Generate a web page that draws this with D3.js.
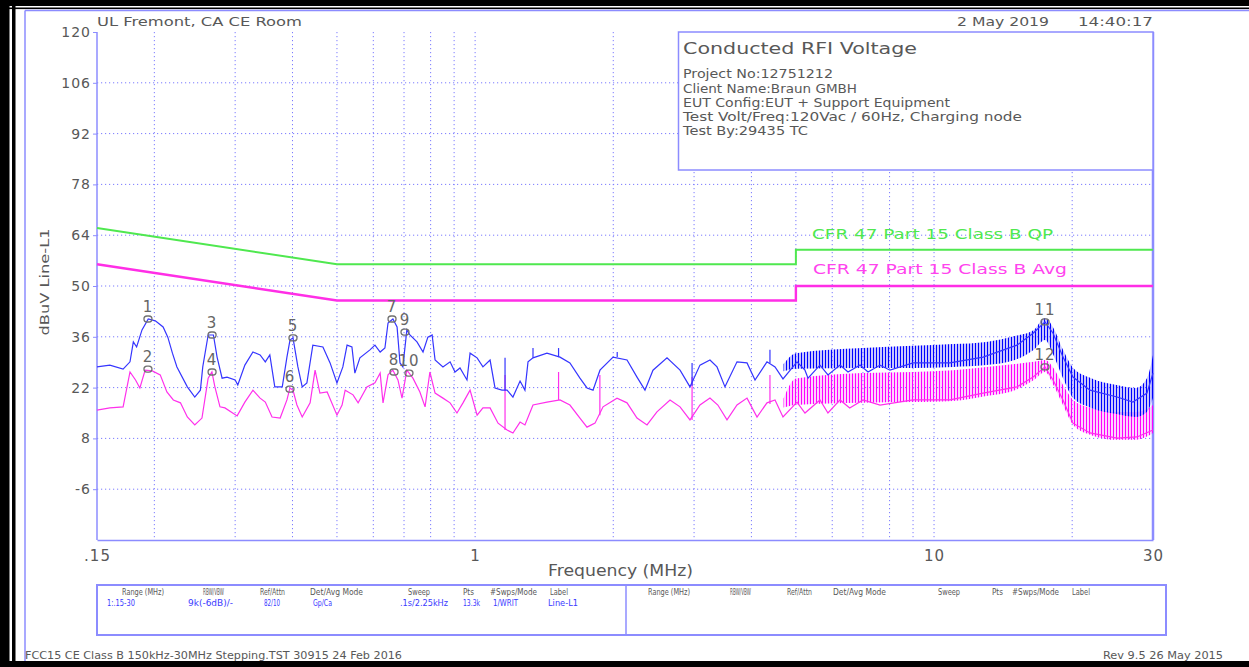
<!DOCTYPE html>
<html>
<head>
<meta charset="utf-8">
<script src="https://cdn.jsdelivr.net/npm/d3@7/dist/d3.min.js"></script>
<style>
  body { margin: 0; background: #fff; }
  text { font-family: "DejaVu Sans", sans-serif; }
</style>
</head>
<body>
<svg id="chart" width="1249" height="667"></svg>
<script>
// ---- data ----
const yTicks = [120, 106, 92, 78, 64, 50, 36, 22, 8, -6];
const xTickLabels = [".15", "1", "10", "30"];
const xTickFreqs = [0.15, 1, 10, 30];
const gridFreqs = [0.2, 0.3, 0.4, 0.5, 0.6, 0.7, 0.8, 0.9, 1, 2, 3, 4, 5, 6, 7, 8, 9, 10, 20];

// limit lines (CFR 47 Part 15 Class B)
const limitFreq = [0.15, 0.5, 5, 5, 30];
const qpLimit = [66, 56, 56, 60, 60];
const avgLimit = [56, 46, 46, 50, 50];

// peak trace (blue)
const peakFreq = [0.150,0.160,0.171,0.177,0.180,0.183,0.188,0.194,0.201,0.209,0.214,0.219,0.224,0.236,0.245,0.252,0.255,0.262,0.269,0.274,
  0.281,0.288,0.300,0.304,0.315,0.328,0.340,0.349,0.357,0.366,0.380,0.389,0.395,0.401,0.411,0.420,0.430,0.443,0.466,0.483,
  0.500,0.515,0.526,0.539,0.547,0.561,0.590,0.605,0.621,0.636,0.646,0.662,0.676,0.686,0.696,0.710,0.721,0.747,0.770,0.789,
  0.806,0.818,0.851,0.882,0.904,0.927,0.960,0.975,1.010,1.040,1.078,1.105,1.144,1.174,1.209,1.253,1.284,1.304,1.337,1.434,
  1.531,1.609,1.692,1.753,1.807,1.871,1.998,2.143,2.253,2.345,2.441,2.619,2.796,2.939,3.090,3.249,3.366,3.503,3.721,3.913,
  4.073,4.325,4.503,4.687,5.028,5.233,5.314,5.642,5.873,6.240,6.495,6.899,7.181,7.627,8.017,9.000,10.30,10.83,12.79,15.16,
  16.44,17.45,18.17,19.10,20.08,21.87,25.05,27.13,29.11,30.0];
const peakLevel = [27.7,28.2,27.1,29.1,34.6,33.2,37.9,40.9,40.4,38.7,35.9,31.5,27.7,22.2,19.4,21.3,27.7,36.5,36.5,30.4,
  24.6,24.9,24.1,22.7,28.2,31.8,31.0,29.1,31.0,22.2,22.2,30.4,35.1,35.7,27.7,22.2,23.3,33.7,33.2,28.8,
  23.3,27.7,33.7,33.2,26.0,30.2,32.4,33.7,31.8,32.9,39.8,40.9,38.7,28.8,27.7,37.9,36.5,34.6,31.8,35.9,
  36.5,29.6,27.7,29.1,26.3,27.4,24.1,31.5,30.2,27.7,29.6,21.9,21.3,21.3,19.4,23.8,21.3,29.1,30.2,31.5,
  30.4,28.8,24.6,21.9,21.3,26.8,30.4,29.6,24.9,21.3,26.8,30.2,26.8,22.2,28.2,29.6,27.7,22.2,29.1,28.8,
  24.1,29.1,27.7,24.4,29.1,26.8,24.6,28.2,25.5,28.2,26.3,28.2,26.3,28.2,26.8,28.8,28.8,28.8,30.4,33.7,
  37.0,40.1,37.0,30.4,24.9,21.3,19.4,18.0,20.5,26.0];

// average trace (magenta)
const avgFreq = [0.150,0.160,0.171,0.177,0.182,0.186,0.191,0.198,0.206,0.213,0.220,0.228,0.236,0.245,0.254,0.262,0.267,0.271,0.278,0.285,
  0.303,0.315,0.328,0.340,0.349,0.361,0.376,0.389,0.395,0.401,0.409,0.420,0.437,0.448,0.459,0.476,0.500,0.513,0.521,0.542,
  0.556,0.581,0.605,0.621,0.630,0.646,0.662,0.679,0.693,0.710,0.732,0.758,0.778,0.797,0.818,0.851,0.882,0.913,0.941,0.975,
  1.010,1.040,1.078,1.122,1.174,1.209,1.253,1.284,1.337,1.434,1.531,1.609,1.692,1.753,1.825,1.900,2.038,2.143,2.253,2.369,
  2.490,2.659,2.796,2.939,3.090,3.249,3.380,3.539,3.721,3.913,4.114,4.325,4.503,4.687,5.028,5.233,5.642,5.873,6.240,6.550,
  7.003,7.627,9.000,10.83,12.79,15.16,16.44,17.45,18.17,19.10,20.08,21.87,25.05,27.69,30.0];
const avgLevel = [15.8,16.4,16.7,26.3,24.1,21.9,26.8,26.6,25.5,20.8,18.6,17.8,13.9,11.7,13.6,24.6,26.3,22.2,16.7,16.4,
  14.2,18.0,21.3,19.1,18.0,13.9,13.6,18.6,21.9,21.3,17.2,13.9,17.8,26.8,20.5,20.8,14.4,17.2,21.3,20.0,
  17.8,22.2,23.3,26.0,17.8,25.5,26.8,24.1,19.1,26.8,24.6,20.8,16.7,26.3,20.5,19.1,17.8,15.0,17.8,21.3,
  14.4,16.4,16.4,12.2,10.3,9.5,12.5,11.7,17.2,18.0,18.6,17.2,13.6,11.1,12.2,16.7,19.1,17.8,13.6,11.7,
  15.3,18.6,16.7,13.1,17.2,19.1,17.2,13.1,17.2,19.1,13.9,17.8,18.6,13.9,18.0,15.0,18.6,15.0,18.6,16.4,
  18.6,17.2,18.6,18.6,20.5,22.2,24.9,27.7,24.1,18.6,12.2,9.5,8.1,8.4,10.3];

// isolated spikes below 5 MHz: frequency, top, base
const peakSpikeFreq = [1.162, 1.337, 1.52, 2.04, 2.97, 4.39];
const peakSpikeTop = [30.2, 32.9, 32.9, 31.8, 28.8, 32.4];
const peakSpikeBase = [21.3, 30.2, 30.4, 30.4, 22.5, 28.8];
const avgSpikeFreq = [1.162, 1.52, 1.87, 2.97, 4.39];
const avgSpikeTop = [25.5, 26.3, 25.5, 24.9, 25.5];
const avgSpikeBase = [10.3, 18.6, 14.4, 13.1, 17.5];

// dense harmonic region above ~4.7 MHz: envelope of the spikes
const bandFreq = [4.7, 5.0, 7.0, 9.0, 11.0, 13.0, 15.0, 16.5, 17.45, 18.2, 19.1, 20.1, 22, 25, 27.5, 29.1, 30];
const peakBandHigh = [28.5, 31.5, 32.9, 33.5, 34.0, 34.6, 36.2, 37.9, 41.2, 38.4, 32.4, 27.4, 24.6, 22.7, 21.9, 24.6, 31.0];
const peakBandLow = [26.5, 27.2, 27.4, 27.4, 27.7, 28.2, 29.6, 32.4, 35.1, 31.0, 24.6, 19.1, 16.4, 14.7, 13.9, 15.3, 19.1];
const avgBandHigh = [19.0, 24.5, 26.0, 26.3, 26.8, 27.7, 28.5, 29.1, 29.6, 27.4, 22.7, 18.6, 16.4, 15.3, 15.3, 16.0, 17.2];
const avgBandLow = [16.5, 17.2, 17.8, 18.0, 18.3, 19.7, 21.3, 24.1, 26.3, 22.7, 17.2, 11.7, 8.9, 7.6, 7.6, 8.5, 9.5];

// markers
const markerLabels = ["1","2","3","4","5","6","7","8","9","10","11","12"];
const markerFreq = [0.1937,0.1937,0.2672,0.2672,0.4010,0.3950,0.6591,0.6658,0.7034,0.7176,17.45,17.45];
const markerLevel = [40.9,27.1,36.5,26.3,35.7,21.6,40.9,26.3,37.3,26.0,40.1,27.7];

// header / info / table text
const siteTitle = "UL Fremont, CA CE Room";
const stampDate = "2 May 2019";
const stampTime = "14:40:17";
const infoTitle = "Conducted RFI Voltage";
const infoLines = ["Project No:12751212", "Client Name:Braun GMBH", "EUT Config:EUT + Support Equipment",
  "Test Volt/Freq:120Vac / 60Hz, Charging node", "Test By:29435 TC"];
const limitNames = ["CFR 47 Part 15 Class B QP", "CFR 47 Part 15 Class B Avg"];
const tableHeaders = ["Range (MHz)", "RBW/VBW", "Ref/Attn", "Det/Avg Mode", "Sweep", "Pts", "#Swps/Mode", "Label"];
const tableValues = ["1:.15-30", "9k(-6dB)/-", "82/10", "Gp/Ca", ".1s/2.25kHz", "13.3k", "1/WRIT", "Line-L1"];
const footerLeft = "FCC15 CE Class B 150kHz-30MHz Stepping.TST 30915 24 Feb 2016";
const footerRight = "Rev 9.5 26 May 2015";

// ---- drawing ----
const svg = d3.select("#chart");
const margin = { left: 97, right: 96, top: 32, bottom: 127 };
const W = 1249, H = 667;
const grey = "#585858", frameBlue = "#8c8cff", gridBlue = "#7b7bff";
const traceBlue = "#3535ff", traceMag = "#ff30ec", qpGreen = "#4fe84f", avgMag = "#ff2ee6";

const x = d3.scaleLog().domain([0.15, 30]).range([margin.left, W - margin.right]);
const y = d3.scaleLinear().domain([-20, 120]).range([H - margin.bottom, margin.top]);

// outer page frame
svg.append("rect").attr("x", 0).attr("y", 0).attr("width", W).attr("height", 6).attr("fill", "#000");
svg.append("rect").attr("x", 0).attr("y", 7.5).attr("width", W).attr("height", 1.6).attr("fill", "#000");
svg.append("rect").attr("x", 0).attr("y", 0).attr("width", 9.5).attr("height", H).attr("fill", "#000");
svg.append("rect").attr("x", 12).attr("y", 0).attr("width", 3.5).attr("height", H).attr("fill", "#000");
svg.append("rect").attr("x", 0).attr("y", 661).attr("width", W).attr("height", 6).attr("fill", "#000");
svg.append("line").attr("x1", 25).attr("x2", W).attr("y1", 10.5).attr("y2", 10.5).attr("stroke", frameBlue).attr("stroke-width", 1.5);
svg.append("line").attr("x1", 25).attr("x2", 25).attr("y1", 10.5).attr("y2", 661).attr("stroke", frameBlue).attr("stroke-width", 1.5);

const defs = svg.append("defs");
function hatch(id, color, alpha, lw) {
  const p = defs.append("pattern").attr("id", id).attr("patternUnits", "userSpaceOnUse")
    .attr("width", 3).attr("height", 8);
  p.append("rect").attr("width", 3).attr("height", 8).attr("fill", color).attr("opacity", alpha);
  p.append("rect").attr("width", lw).attr("height", 8).attr("fill", color);
}
hatch("hatchBlue", "#0000ff", 0.22, 1);
hatch("hatchMag", "#ff00ff", 0.18, 1);

const plot = svg.append("g");

// grid
plot.append("g").selectAll("line").data(gridFreqs).enter().append("line")
  .attr("x1", d => x(d)).attr("x2", d => x(d))
  .attr("y1", y(120)).attr("y2", y(-20))
  .attr("stroke", gridBlue).attr("stroke-width", 1).attr("stroke-dasharray", "1.2,2.8");
plot.append("g").selectAll("line").data(yTicks.slice(1)).enter().append("line")
  .attr("x1", x(0.15)).attr("x2", x(30))
  .attr("y1", d => y(d)).attr("y2", d => y(d))
  .attr("stroke", gridBlue).attr("stroke-width", 1).attr("stroke-dasharray", "1.2,2.8");

// axes frame (left, bottom, right)
const yAxis = d3.axisLeft(y).tickValues(yTicks).tickSize(4).tickPadding(2).tickFormat(d => String(d));
const gy = plot.append("g").attr("transform", `translate(${margin.left},0)`).call(yAxis);
gy.select(".domain").attr("stroke", frameBlue).attr("stroke-width", 1.5).attr("d", `M0,${y(120)}V${y(-20)}`);
gy.selectAll(".tick line").attr("stroke", frameBlue);
gy.selectAll(".tick text").attr("fill", grey).attr("font-size", 14).attr("font-family", "DejaVu Sans")
  .attr("letter-spacing", 1);

const xAxis = d3.axisBottom(x).tickValues(xTickFreqs).tickSize(0).tickPadding(10)
  .tickFormat((d, i) => xTickLabels[i]);
const gx = plot.append("g").attr("transform", `translate(0,${y(-20)})`).call(xAxis);
gx.select(".domain").attr("stroke", frameBlue).attr("stroke-width", 1.5);
gx.selectAll(".tick text").attr("fill", grey).attr("font-size", 15).attr("font-family", "DejaVu Sans")
  .attr("letter-spacing", 1);

plot.append("line").attr("x1", x(30)).attr("x2", x(30)).attr("y1", y(120)).attr("y2", y(-20))
  .attr("stroke", frameBlue).attr("stroke-width", 2.5);

// info box
svg.append("rect").attr("x", 678.5).attr("y", y(120)).attr("width", x(30) - 678.5).attr("height", 138)
  .attr("fill", "#fff").attr("stroke", frameBlue).attr("stroke-width", 1.5);
svg.append("text").attr("x", 683).attr("y", 54).attr("font-size", 16).attr("fill", grey)
  .attr("textLength", 234).attr("lengthAdjust", "spacingAndGlyphs").text(infoTitle);
const infoLens = [150, 174, 267, 339, 125];
const infoBase = [78, 92.5, 106.5, 120.5, 135];
infoLines.forEach((t, i) => {
  svg.append("text").attr("x", 683).attr("y", infoBase[i]).attr("font-size", 12.5).attr("fill", grey)
    .attr("textLength", infoLens[i]).attr("lengthAdjust", "spacingAndGlyphs").text(t);
});

// header
svg.append("text").attr("x", 97).attr("y", 26).attr("font-size", 13).attr("fill", grey)
  .attr("textLength", 205).attr("lengthAdjust", "spacingAndGlyphs").text(siteTitle);
svg.append("text").attr("x", 957).attr("y", 26).attr("font-size", 13).attr("fill", grey)
  .attr("textLength", 92).attr("lengthAdjust", "spacingAndGlyphs").text(stampDate);
svg.append("text").attr("x", 1078).attr("y", 26).attr("font-size", 13).attr("fill", grey)
  .attr("textLength", 75).attr("lengthAdjust", "spacingAndGlyphs").text(stampTime);

// limit lines
const limLine = (lv) => d3.line().x((d, i) => x(limitFreq[i])).y((d, i) => y(lv[i]))(limitFreq);
plot.append("path").attr("d", limLine(qpLimit)).attr("fill", "none").attr("stroke", qpGreen).attr("stroke-width", 2);
plot.append("path").attr("d", limLine(avgLimit)).attr("fill", "none").attr("stroke", avgMag).attr("stroke-width", 2.4);
svg.append("text").attr("x", 812).attr("y", 239).attr("font-size", 14).attr("fill", qpGreen)
  .attr("textLength", 241).attr("lengthAdjust", "spacingAndGlyphs").text(limitNames[0]);
svg.append("text").attr("x", 813).attr("y", 274).attr("font-size", 14).attr("fill", "#ff44ee")
  .attr("textLength", 254).attr("lengthAdjust", "spacingAndGlyphs").text(limitNames[1]);

// dense harmonic bands
const band = (hi, lo) => d3.area().x((d, i) => x(bandFreq[i])).y0((d, i) => y(lo[i])).y1((d, i) => y(hi[i]))
  .curve(d3.curveMonotoneX)(bandFreq);
plot.append("path").attr("d", band(avgBandHigh, avgBandLow)).attr("fill", "url(#hatchMag)");

// average trace
plot.append("path")
  .attr("d", d3.line().x((d, i) => x(avgFreq[i])).y((d, i) => y(avgLevel[i]))(avgFreq))
  .attr("fill", "none").attr("stroke", traceMag).attr("stroke-width", 1.2);
plot.append("g").selectAll("line").data(avgSpikeFreq).enter().append("line")
  .attr("x1", d => x(d)).attr("x2", d => x(d))
  .attr("y1", (d, i) => y(avgSpikeTop[i])).attr("y2", (d, i) => y(avgSpikeBase[i]))
  .attr("stroke", traceMag).attr("stroke-width", 1.2);

plot.append("path").attr("d", band(peakBandHigh, peakBandLow)).attr("fill", "url(#hatchBlue)");

// peak trace
plot.append("path")
  .attr("d", d3.line().x((d, i) => x(peakFreq[i])).y((d, i) => y(peakLevel[i]))(peakFreq))
  .attr("fill", "none").attr("stroke", traceBlue).attr("stroke-width", 1.2);
plot.append("g").selectAll("line").data(peakSpikeFreq).enter().append("line")
  .attr("x1", d => x(d)).attr("x2", d => x(d))
  .attr("y1", (d, i) => y(peakSpikeTop[i])).attr("y2", (d, i) => y(peakSpikeBase[i]))
  .attr("stroke", traceBlue).attr("stroke-width", 1.2);

// markers
const mk = plot.append("g").selectAll("g").data(markerLabels).enter().append("g")
  .attr("transform", (d, i) => `translate(${x(markerFreq[i])},${y(markerLevel[i])})`);
mk.append("rect").attr("x", -4).attr("y", -3).attr("width", 8).attr("height", 6).attr("rx", 3)
  .attr("fill", "none").attr("stroke", "#707070").attr("stroke-width", 1.3);
mk.append("text").attr("y", -7).attr("text-anchor", "middle").attr("font-size", 15).attr("fill", "#666")
  .attr("letter-spacing", 1).text(d => d);

// axis titles
svg.append("text").attr("x", 548).attr("y", 576).attr("font-size", 15).attr("fill", grey)
  .attr("textLength", 145).attr("lengthAdjust", "spacingAndGlyphs").text("Frequency (MHz)");
svg.append("text").attr("transform", "translate(49,282) rotate(-90)").attr("text-anchor", "middle")
  .attr("font-size", 13).attr("fill", grey)
  .attr("textLength", 107).attr("lengthAdjust", "spacingAndGlyphs").text("dBuV Line-L1");

// settings table
svg.append("rect").attr("x", 97).attr("y", 585).attr("width", 1069).attr("height", 50)
  .attr("fill", "none").attr("stroke", frameBlue).attr("stroke-width", 2);
svg.append("line").attr("x1", 626).attr("x2", 626).attr("y1", 585).attr("y2", 635)
  .attr("stroke", frameBlue).attr("stroke-width", 1.5);
const headX = [[122, 203, 260, 310, 408, 463, 490, 550], [648, 730, 787, 833, 938, 992, 1012, 1072]];
const headLen = [42, 21, 25, 53, 22, 11, 47, 18];
headX.forEach(row => row.forEach((hx, i) => {
  svg.append("text").attr("x", hx).attr("y", 595).attr("font-size", 8).attr("fill", grey)
    .attr("textLength", headLen[i]).attr("lengthAdjust", "spacingAndGlyphs").text(tableHeaders[i]);
}));
const valX = [107, 188, 264, 313, 400, 463, 493, 548];
const valLen = [28, 45, 16, 19, 48, 17, 25, 30];
tableValues.forEach((t, i) => {
  svg.append("text").attr("x", valX[i]).attr("y", 606).attr("font-size", 9).attr("fill", "#3a3aff")
    .attr("textLength", valLen[i]).attr("lengthAdjust", "spacingAndGlyphs").text(t);
});

// footer
svg.append("text").attr("x", 25).attr("y", 659).attr("font-size", 10.5).attr("fill", grey)
  .attr("textLength", 377).attr("lengthAdjust", "spacingAndGlyphs").text(footerLeft);
svg.append("text").attr("x", 1103).attr("y", 659).attr("font-size", 10.5).attr("fill", grey)
  .attr("textLength", 120).attr("lengthAdjust", "spacingAndGlyphs").text(footerRight);
</script>
</body>
</html>
